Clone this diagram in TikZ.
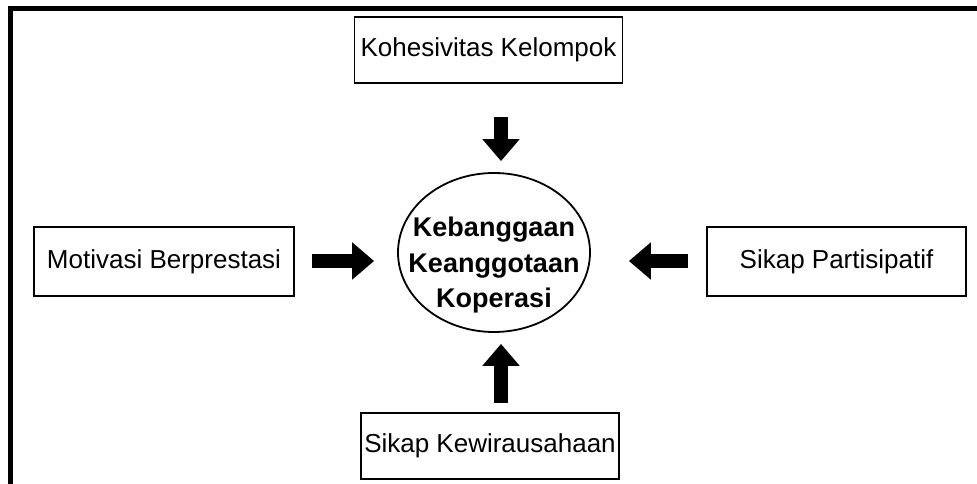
\documentclass[tikz,border=0pt]{standalone}
\usepackage{fontspec}
\setmainfont{Liberation Sans}
\usetikzlibrary{arrows.meta,shapes.geometric}

\begin{document}
\begin{tikzpicture}[x=1pt, y=1pt,
  box/.style={draw, line width=1.8pt, align=center, inner sep=0pt, font=\fontsize{26}{31}\selectfont},
  hub/.style={draw, ellipse, line width=1.8pt, minimum width=192pt, minimum height=159pt, inner sep=0pt},
  arr/.style={-{Triangle[width=36pt,length=22pt]}, line width=14pt}
]
  \useasboundingbox (0,0) rectangle (977,484);
  \draw[line width=5pt] (10.5,-5) -- (10.5,475.5) -- (990,475.5);

  \node[hub] (hub) at (494,231.5) {};
  \node[align=center, font=\fontsize{27}{35.5}\selectfont\bfseries] (hubtext) at (494,218.8) {Kebanggaan\\Keanggotaan\\Koperasi};

  \node[box, minimum width=268pt, minimum height=66pt] (kohesi) at (488.5,434) {Kohesivitas Kelompok};
  \node[box, minimum width=260pt, minimum height=69pt] (motivasi) at (164,222.5) {Motivasi Berprestasi};
  \node[box, minimum width=259pt, minimum height=69pt] (partisipatif) at (836.5,222.5) {Sikap Partisipatif};
  \node[box, minimum width=258pt, minimum height=66pt] (kewira) at (490,38) {Sikap Kewirausahaan};

  \draw[arr] ([xshift=12.5pt,yshift=-33pt]kohesi.south) -- ([xshift=7pt,yshift=11pt]hub.north);
  \draw[arr] ([xshift=17pt,yshift=0.5pt]motivasi.east) -- ([xshift=-23pt,yshift=-8.5pt]hub.west);
  \draw[arr] ([xshift=-18pt,yshift=0.5pt]partisipatif.west) -- ([xshift=38pt,yshift=-8.5pt]hub.east);
  \draw[arr] ([xshift=11pt,yshift=9pt]kewira.north) -- ([xshift=7pt,yshift=-11pt]hub.south);
\end{tikzpicture}
\end{document}
